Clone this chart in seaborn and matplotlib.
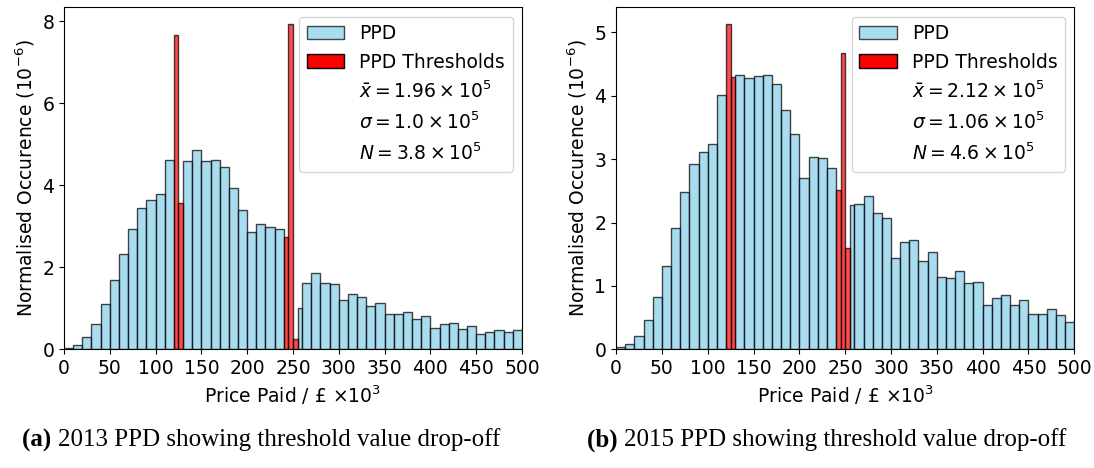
import numpy as np
import pandas as pd
import matplotlib
matplotlib.use("Agg")
import matplotlib.pyplot as plt
import seaborn as sns
from matplotlib.patches import Patch

# ---------------- data ----------------
# blue (PPD) histogram: bin edges (k GBP) and normalised heights (1e-6)
blue_edges = [0, 10, 20, 30, 40, 50, 60, 70, 80, 90, 100, 110, 120,
              130, 140, 150, 160, 170, 180, 190, 200, 210, 220, 230, 240,
              255, 260, 270, 280, 290, 300, 310, 320, 330, 340, 350, 360,
              370, 380, 390, 400, 410, 420, 430, 440, 450, 460, 470, 480,
              490, 500]

ppd_2013 = [0.04, 0.10, 0.29, 0.61, 1.10, 1.69, 2.32, 2.94, 3.45, 3.65, 3.79, 4.62,
            0.0,
            4.58, 4.85, 4.60, 4.62, 4.44, 3.94, 3.40, 2.86, 3.06, 2.99, 2.93,
            0.0,
            1.00, 1.62, 1.86, 1.62, 1.59, 1.19, 1.35, 1.28, 1.06, 1.14, 0.86,
            0.86, 0.90, 0.73, 0.80, 0.51, 0.61, 0.63, 0.49, 0.57, 0.38, 0.42,
            0.46, 0.42, 0.46]

ppd_2015 = [0.04, 0.08, 0.21, 0.47, 0.83, 1.32, 1.92, 2.49, 2.92, 3.11, 3.24, 4.01,
            0.0,
            4.33, 4.28, 4.31, 4.33, 4.18, 3.78, 3.40, 2.71, 3.04, 3.02, 2.86,
            0.0,
            2.27, 2.29, 2.42, 2.15, 2.08, 1.44, 1.70, 1.72, 1.40, 1.53, 1.14,
            1.12, 1.23, 1.04, 1.07, 0.70, 0.81, 0.85, 0.70, 0.78, 0.55, 0.55,
            0.63, 0.54, 0.43]

# red (threshold) bars: edges and heights
red_edges = [120, 125, 130, 240, 245, 250, 255]
thr_2013 = [7.65, 3.56, 0.0, 2.75, 7.94, 0.24]
thr_2015 = [5.14, 4.29, 0.0, 2.52, 4.68, 1.60]

stats_2013 = [r"$\bar{x} = 1.96 \times 10^5$", r"$\sigma = 1.0 \times 10^5$", r"$N = 3.8 \times 10^5$"]
stats_2015 = [r"$\bar{x} = 2.12 \times 10^5$", r"$\sigma = 1.06 \times 10^5$", r"$N = 4.6 \times 10^5$"]

captions = ["2013 PPD showing threshold value drop-off", "2015 PPD showing threshold value drop-off"]
caption_tags = ["(a)", "(b)"]
caption_centers_px = [261, 827]

x_ticks = list(range(0, 501, 50))
y_ticks_list = [[0, 2, 4, 6, 8], [0, 1, 2, 3, 4, 5]]

# ---------------- plotting ----------------
plt.rcParams['font.family'] = ['DejaVu Sans']
FS = 13.5
CAP_FS = 18

W, H = 1094, 468
fig = plt.figure(figsize=(W / 100, H / 100), dpi=100)
ax_pos = [[0.0585, 0.2536, 0.4186, 0.7308], [0.5631, 0.2536, 0.4189, 0.7308]]

blue_fc = "skyblue"
edge_c = (0, 0, 0, 0.72)


def centers(edges):
    e = np.asarray(edges, dtype=float)
    return (e[:-1] + e[1:]) / 2


panels = [(ppd_2013, thr_2013, stats_2013), (ppd_2015, thr_2015, stats_2015)]
cap_texts = []
for i, (blue_h, red_h, stats) in enumerate(panels):
    ax = fig.add_axes(ax_pos[i])
    dfb = pd.DataFrame({"price": centers(blue_edges), "h": blue_h})
    dfb = dfb[dfb["h"] > 0]
    sns.histplot(data=dfb, x="price", weights="h", bins=blue_edges, ax=ax,
                 color=blue_fc, alpha=0.7, edgecolor=edge_c, linewidth=1.0)
    dfr = pd.DataFrame({"price": centers(red_edges), "h": red_h})
    dfr = dfr[dfr["h"] > 0]
    sns.histplot(data=dfr, x="price", weights="h", bins=red_edges, ax=ax,
                 color="red", alpha=0.7, edgecolor=edge_c, linewidth=1.0)
    for p in list(ax.patches):
        if p.get_height() == 0:
            p.remove()
        else:
            p.set_edgecolor(edge_c)
    ax.set_xlim(0, 500)
    ax.set_ylim(0, max(max(blue_h), max(red_h)) * 1.05)
    ax.set_xticks(x_ticks)
    ax.set_yticks(y_ticks_list[i])
    ax.tick_params(labelsize=FS)
    ax.set_xlabel(r"Price Paid / £ $\times10^3$", fontsize=FS)
    ax.set_ylabel(r"Normalised Occurence ($10^{-6}$)", fontsize=FS)
    handles = [Patch(facecolor=blue_fc, alpha=0.7, edgecolor="black"),
               Patch(facecolor="red", edgecolor="black")] + \
              [Patch(facecolor="none", edgecolor="none") for _ in stats]
    labels = ["PPD", "PPD Thresholds"] + stats
    ax.legend(handles, labels, loc="upper right", fontsize=FS)

    y = 1 - 440 / H
    t1 = fig.text(0, y, caption_tags[i] + " ", ha="left", va="center",
                  fontsize=CAP_FS, family="Liberation Serif", fontweight="bold")
    t2 = fig.text(0, y, captions[i], ha="left", va="center",
                  fontsize=CAP_FS, family="Liberation Serif")
    cap_texts.append((t1, t2, caption_centers_px[i]))

fig.canvas.draw()
r = fig.canvas.get_renderer()
for t1, t2, c in cap_texts:
    w1 = t1.get_window_extent(r).width
    w2 = t2.get_window_extent(r).width
    x0 = c - (w1 + w2) / 2
    t1.set_x(x0 / W)
    t2.set_x((x0 + w1) / W)

fig.savefig("out.png", dpi=100)
